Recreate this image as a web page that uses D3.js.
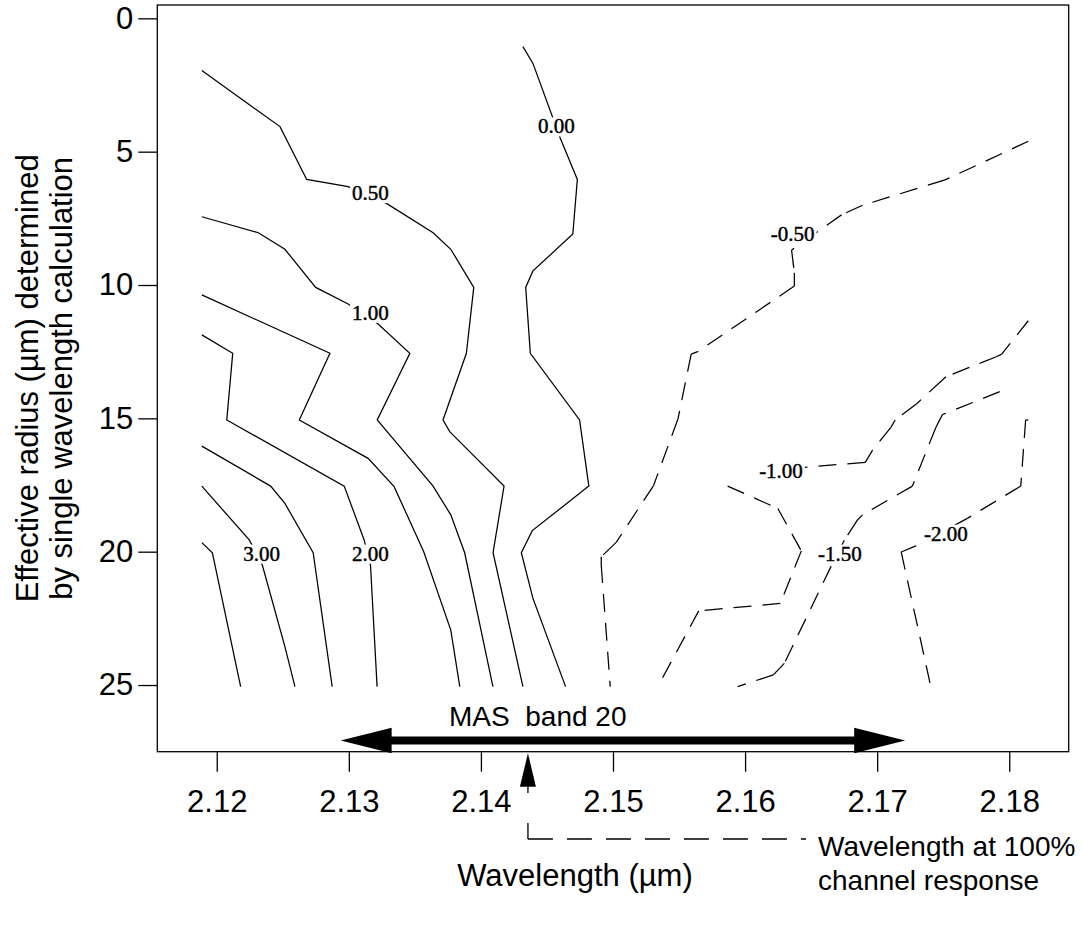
<!DOCTYPE html>
<html><head><meta charset="utf-8">
<script src="https://cdn.jsdelivr.net/npm/d3@7"></script>
<style>
body{margin:0;background:#fff}
svg text.sans{font-family:"Liberation Sans",Arial,sans-serif;fill:#000}
svg text.serif{font-family:"Liberation Serif","Times New Roman",serif;fill:#000;stroke:#000;stroke-width:0.45px}
</style>
</head><body>
<svg id="chart" width="1083" height="930"></svg>
<script>
// ---------- data ----------
const xTicks = [2.12, 2.13, 2.14, 2.15, 2.16, 2.17, 2.18];
const yTicks = [0, 5, 10, 15, 20, 25];
const xDomain = [2.1155, 2.1845];
const yDomain = [-0.5, 27.5];

// contour lines: [wavelength (um), effective radius (um)]
const c350 = [[2.11887,19.66],[2.11967,20.04],[2.12181,25.06]];
const c300 = [[2.11887,17.54],[2.12246,19.56],[2.12345,20.50],[2.12516,23.56],[2.12592,25.06]];
const c250 = [[2.11887,16.04],[2.12408,17.54],[2.12516,18.19],[2.12730,20.04],[2.12874,25.06]];
const c200 = [[2.11887,11.87],[2.12121,12.56],[2.12076,15.06],[2.12965,17.54],[2.13116,19.56],[2.13164,20.50],[2.13214,25.06]];
const c150 = [[2.11887,10.37],[2.12857,12.56],[2.12625,15.06],[2.13146,16.50],[2.13343,17.56],[2.13567,20.00],[2.13772,22.94],[2.13840,25.06]];
const c100 = [[2.11887,7.44],[2.12315,8.04],[2.12516,8.66],[2.12749,10.09],[2.12995,10.71],[2.13222,11.46],[2.13462,12.56],[2.13215,15.06],[2.13638,17.54],[2.13772,18.62],[2.13877,20.04],[2.14091,25.06]];
const c050 = [[2.11887,1.96],[2.12479,4.06],[2.12681,6.04],[2.12995,6.31],[2.13285,6.94],[2.13638,8.04],[2.13772,8.66],[2.13946,10.09],[2.13890,12.56],[2.13713,15.06],[2.13764,15.50],[2.14175,17.54],[2.14092,20.04],[2.14318,25.06]];
const c000 = [[2.14318,1.06],[2.14394,1.69],[2.14601,4.50],[2.14730,6.04],[2.14696,8.09],[2.14394,9.47],[2.14339,10.09],[2.14374,12.56],[2.14747,15.06],[2.14817,17.54],[2.14389,19.21],[2.14306,20.04],[2.14394,21.75],[2.14641,25.06]];
const cm050 = [[2.18144,4.61],[2.17514,6.06],[2.16889,7.01],[2.16730,7.37],[2.16352,8.69],[2.16373,9.54],[2.16373,10.04],[2.15641,12.50],[2.15592,12.59],[2.15492,15.02],[2.15307,17.52],[2.15024,19.65],[2.14911,20.19],[2.14911,20.50],[2.14979,25.06]];
const cm100a = [[2.18144,11.34],[2.17943,12.59],[2.17902,12.69],[2.17520,13.44],[2.17494,13.56],[2.17297,14.46],[2.17136,15.06],[2.17104,15.34],[2.16965,16.19],[2.16910,16.65],[2.16435,16.84],[2.16272,16.96]];
const cm100b = [[2.15868,17.54],[2.16248,18.38],[2.16426,19.97],[2.16267,21.94],[2.15649,22.22],[2.15339,25.06]];
const cm150 = [[2.17928,14.00],[2.17494,14.86],[2.17444,15.34],[2.17267,17.54],[2.16889,18.62],[2.16851,18.81],[2.16751,19.57],[2.16650,20.56],[2.16297,24.19],[2.16214,24.62],[2.15944,25.06]];
const cm200 = [[2.18144,15.06],[2.18124,15.06],[2.18087,17.54],[2.17683,18.75],[2.17293,19.78],[2.17182,20.01],[2.17406,25.06]];

const solidLines = [c350, c300, c250, c200, c150, c100, c050, c000];
const dashedLines = [cm050, cm100a, cm100b, cm150, cm200];

// contour labels
const labelText = ["0.00","0.50","1.00","2.00","3.00","-0.50","-1.00","-1.50","-2.00"];
const labelWl   = [2.14571,2.13164,2.13164,2.13164,2.12340,2.16360,2.16272,2.16718,2.17520];
const labelR    = [4.04,6.54,11.04,20.06,20.06,8.06,16.96,20.06,19.31];

// MAS band 20 extent and wavelength of 100% response
const bandEdges = [2.12938, 2.17212];
const peakWl = 2.14356;

// ---------- layout ----------
const svg = d3.select("#chart");
const L = 157.3, R = 1068.7, T = 5, B = 751.7;
const x = d3.scaleLinear().domain(xDomain).range([L, R]);
const y = d3.scaleLinear().domain(yDomain).range([T, B]);

// frame
svg.append("rect").attr("x", L).attr("y", T).attr("width", R - L).attr("height", B - T)
  .attr("fill", "none").attr("stroke", "#000").attr("stroke-width", 1.3);

// axes
const xAxis = svg.append("g").attr("transform", `translate(0,${B})`)
  .call(d3.axisBottom(x).tickValues(xTicks).tickFormat(d3.format(".2f")).tickSize(20).tickPadding(18));
const yAxis = svg.append("g").attr("transform", `translate(${L},0)`)
  .call(d3.axisLeft(y).tickValues(yTicks).tickSize(19).tickPadding(5));
[xAxis, yAxis].forEach(g => {
  g.select(".domain").remove();
  g.selectAll(".tick line").attr("stroke", "#000").attr("stroke-width", 1.3);
  g.selectAll(".tick text").attr("class", "sans").attr("font-size", 31).attr("fill", "#000");
});

// contours
const line = d3.line().x(d => x(d[0])).y(d => y(d[1]));
const cg = svg.append("g");
cg.selectAll("path.solid").data(solidLines).join("path").attr("class", "solid")
  .attr("d", line).attr("fill", "none").attr("stroke", "#000").attr("stroke-width", 1.25);

// dashed: dash pattern restarts at each vertex
const segs = [];
dashedLines.forEach(pts => { for (let i = 0; i < pts.length - 1; i++) segs.push([pts[i], pts[i + 1]]); });
cg.selectAll("line.dash").data(segs).join("line").attr("class", "dash")
  .attr("x1", d => x(d[0][0])).attr("y1", d => y(d[0][1]))
  .attr("x2", d => x(d[1][0])).attr("y2", d => y(d[1][1]))
  .attr("stroke", "#000").attr("stroke-width", 1.25).attr("stroke-dasharray", "18,11");

// labels with white knockout
const lg = svg.append("g");
labelText.forEach((t, i) => {
  const g = lg.append("g");
  const tx = g.append("text").attr("class", "serif").attr("x", x(labelWl[i])).attr("y", y(labelR[i])).attr("dy", "0.35em")
    .attr("text-anchor", "middle").attr("font-size", 21).text(t);
  const bb = tx.node().getBBox();
  g.insert("rect", "text").attr("x", bb.x - 2).attr("y", bb.y + 3).attr("width", bb.width + 4).attr("height", bb.height - 5)
    .attr("fill", "#fff");
});

// MAS band arrow
const xa = x(bandEdges[0]), xb = x(bandEdges[1]), ya = 740.5, hl = 51, hh = 12.8, sh = 4;
const arrowPts = [[xa, ya], [xa + hl, ya - hh], [xa + hl, ya - sh], [xb - hl, ya - sh], [xb - hl, ya - hh], [xb, ya],
  [xb - hl, ya + hh], [xb - hl, ya + sh], [xa + hl, ya + sh], [xa + hl, ya + hh]];
svg.append("path").attr("d", "M" + arrowPts.map(p => p.join(",")).join("L") + "Z").attr("fill", "#000");
svg.append("text").attr("class", "sans").attr("x", 449).attr("y", 726).attr("font-size", 28).style("white-space", "pre").text("MAS  band 20");

// 100% response pointer
const xp = x(peakWl);
svg.append("path").attr("d", `M${xp},${B + 1.5}L${xp - 8},${B + 35}L${xp + 8},${B + 35}Z`).attr("fill", "#000");
svg.append("line").attr("x1", xp).attr("y1", 839).attr("x2", xp).attr("y2", B + 35)
  .attr("stroke", "#000").attr("stroke-width", 1.3).attr("stroke-dasharray", "16,30");
svg.append("line").attr("x1", xp).attr("y1", 839).attr("x2", 806).attr("y2", 839)
  .attr("stroke", "#000").attr("stroke-width", 1.3).attr("stroke-dasharray", "25,14");
svg.append("text").attr("class", "sans").attr("x", 818).attr("y", 856).attr("font-size", 28).text("Wavelength at 100%");
svg.append("text").attr("class", "sans").attr("x", 818).attr("y", 890).attr("font-size", 28).text("channel response");

// axis titles
svg.append("text").attr("class", "sans").attr("x", 575).attr("y", 886).attr("text-anchor", "middle").attr("font-size", 31)
  .text("Wavelength (µm)");
const yc = (T + B) / 2;
svg.append("text").attr("class", "sans").attr("transform", `translate(38,${yc}) rotate(-90)`).attr("text-anchor", "middle").attr("font-size", 31)
  .text("Effective radius (µm) determined");
svg.append("text").attr("class", "sans").attr("transform", `translate(72,${yc}) rotate(-90)`).attr("text-anchor", "middle").attr("font-size", 31)
  .text("by single wavelength calculation");
</script>
</body></html>
